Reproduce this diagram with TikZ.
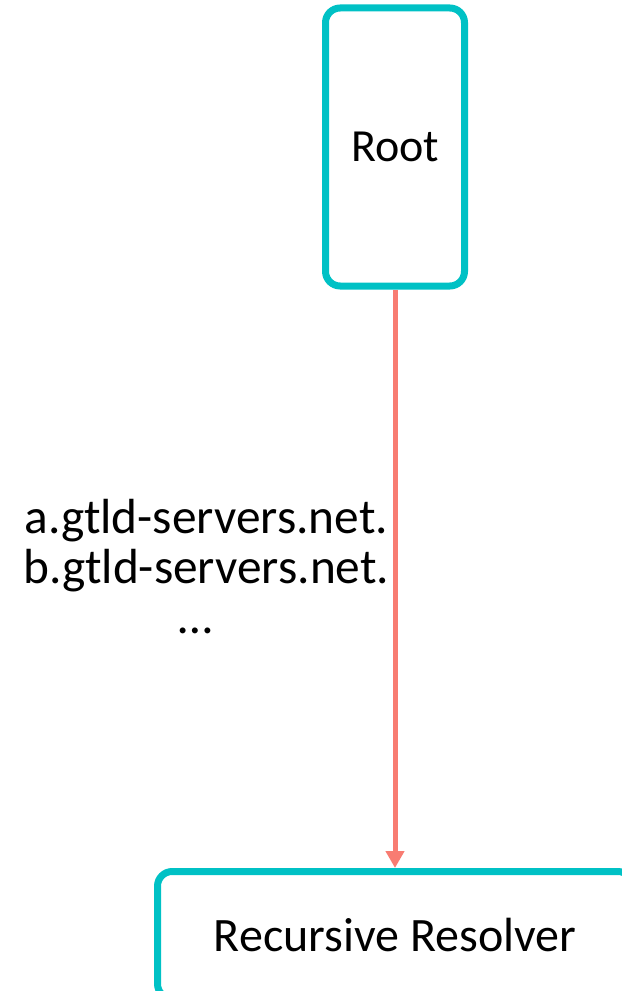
\documentclass[tikz,border=0pt]{standalone}
\usepackage{fontspec}
\setmainfont{Carlito}
\usetikzlibrary{arrows.meta}
\definecolor{teal1}{RGB}{0,193,197}
\definecolor{salmon1}{RGB}{248,124,114}
\begin{document}
\begin{tikzpicture}[x=0.75pt,y=-0.75pt,
  box/.style={draw=teal1, line width=5.25pt, rounded corners=11pt, inner sep=0pt},
  lbl/.style={inner sep=0pt, align=center, font=\fontsize{37pt}{37.5pt}\selectfont},
  conn/.style={draw=salmon1, line width=3.75pt, -{Triangle[width=13.5pt,length=12.75pt]}}]
\useasboundingbox (0,0) rectangle (621,991);
\node[box, minimum width=104.25pt, minimum height=208.5pt, font=\fontsize{34.5pt}{40pt}\selectfont] (root) at (395,147) {Root};
\node[box, minimum width=356.25pt, minimum height=95.25pt, font=\fontsize{36pt}{40pt}\selectfont] (res) at (395,935) {Recursive Resolver};
\draw[conn] (root.south) -- (res.north);
\node[lbl, anchor=base] (names) at (206.5,633) {a.gtld-servers.net.\\b.gtld-servers.net.\\…\hspace*{16.5pt}};
\end{tikzpicture}
\end{document}
